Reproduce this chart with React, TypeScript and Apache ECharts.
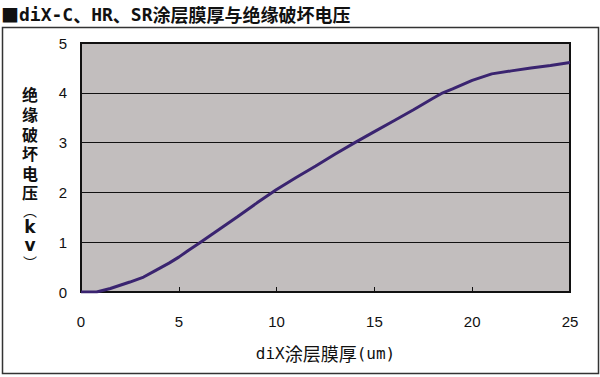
import React, { useEffect, useRef } from "react";
import * as echarts from "echarts";

const thickness = [0, 0.8, 1.5, 2.5, 3.2, 3.8, 4.5, 5, 5.5, 6, 7, 8, 9, 10, 11, 12, 13, 14, 15, 16, 17, 18, 18.5, 19, 20, 21, 22, 23, 24, 25];
const voltage = [0, 0, 0.07, 0.2, 0.3, 0.43, 0.58, 0.7, 0.84, 0.97, 1.24, 1.51, 1.79, 2.06, 2.3, 2.53, 2.77, 3.0, 3.22, 3.44, 3.66, 3.89, 4.0, 4.08, 4.25, 4.38, 4.44, 4.5, 4.55, 4.61];

const titleParts = ["■", "diX-C", "、", "HR", "、", "SR", "涂层膜厚与绝缘破坏电压"];
const xNameParts = ["diX", "涂层膜厚", "(um)"];
const yNameChars = ["绝", "缘", "破", "坏", "电", "压", "︵", "k", "v", "︶"];

const FONT = "'Noto Sans CJK JP', 'Noto Sans CJK SC', sans-serif";
const MONO = "'DejaVu Sans Mono', 'Liberation Mono', monospace";
const SANS = "'DejaVu Sans', 'Liberation Sans', sans-serif";

export default function App() {
  const ref = useRef<HTMLDivElement>(null);
  useEffect(() => {
    if (!ref.current) return;
    const chart = echarts.init(ref.current, undefined, { renderer: "svg" });
    const data = thickness.map((x, i) => [x, voltage[i]]);
    const isLatin = (s: string) => /^[ A-Za-z\-()]+$/.test(s);
    const titleRich = titleParts
      .map((p) => (p === "■" ? `{sq|${p}}` : isLatin(p) ? `{m|${p}}` : `{c|${p}}`))
      .join("");
    const xRich = xNameParts.map((p) => (isLatin(p) ? `{m|${p}}` : `{c|${p}}`)).join("");
    const yCenters = [94, 114, 134, 153, 173, 192, 210, 227, 245, 262];
    const yTexts = yNameChars.map((ch, i) => {
      const paren = ch === "︵" || ch === "︶";
      const latin = /[a-z]/.test(ch);
      return {
        type: "text",
        x: 30,
        y: yCenters[i],
        style: {
          text: ch,
          font: paren ? `14px ${FONT}` : latin ? `bold 17px ${SANS}` : `bold 16px ${FONT}`,
          fill: "#111",
          align: "center",
          verticalAlign: "middle",
        },
      };
    });
    chart.setOption({
      animation: false,
      backgroundColor: "#ffffff",
      graphic: [
        {
          type: "rect",
          shape: { x: 2.5, y: 27.5, width: 596, height: 346 },
          style: { fill: "none", stroke: "#333", lineWidth: 1.5 },
          silent: true,
        },
        {
          type: "text",
          x: 1,
          y: 4,
          style: {
            text: titleRich,
            fill: "#111",
            verticalAlign: "top",
            rich: {
              sq: { fontFamily: FONT, fontSize: 18, fontWeight: "bold", fill: "#111", lineHeight: 20 },
              m: { fontFamily: MONO, fontSize: 18, fontWeight: "bold", fill: "#111", lineHeight: 20 },
              c: { fontFamily: FONT, fontSize: 18, fontWeight: "bold", fill: "#111", lineHeight: 20 },
            },
          },
        },
        ...yTexts,
      ],
      grid: {
        left: 81,
        right: 30,
        top: 43,
        bottom: 85,
        show: true,
        backgroundColor: "#c2bebe",
        borderColor: "#111",
        borderWidth: 2,
      },
      xAxis: {
        type: "value",
        min: 0,
        max: 25,
        interval: 5,
        name: xRich,
        nameLocation: "middle",
        nameGap: 52,
        nameTextStyle: {
          color: "#111",
          rich: {
            m: { fontFamily: MONO, fontSize: 16, fill: "#111" },
            c: { fontFamily: FONT, fontSize: 18, fill: "#111" },
          },
        },
        axisLine: { lineStyle: { color: "#111", width: 2 } },
        axisTick: { inside: true, length: 5, lineStyle: { color: "#111", width: 1 } },
        axisLabel: { margin: 22, fontSize: 15, color: "#111", fontFamily: "Arial, 'Liberation Sans', sans-serif" },
        splitLine: { show: false },
      },
      yAxis: {
        type: "value",
        min: 0,
        max: 5,
        interval: 1,
        axisLine: { show: true, lineStyle: { color: "#111", width: 2 } },
        axisTick: { show: false },
        axisLabel: { margin: 14, fontSize: 15, color: "#111", fontFamily: "Arial, 'Liberation Sans', sans-serif" },
        splitLine: { show: true, lineStyle: { color: "#111", width: 1 } },
      },
      series: [
        {
          type: "line",
          data,
          symbol: "none",
          smooth: false,
          lineStyle: { color: "#3a2470", width: 3 },
        },
      ],
    });
    return () => chart.dispose();
  }, []);
  return (
    <div
      ref={ref}
      style={{ position: "fixed", left: 0, top: 0, width: 600, height: 377 }}
    />
  );
}
